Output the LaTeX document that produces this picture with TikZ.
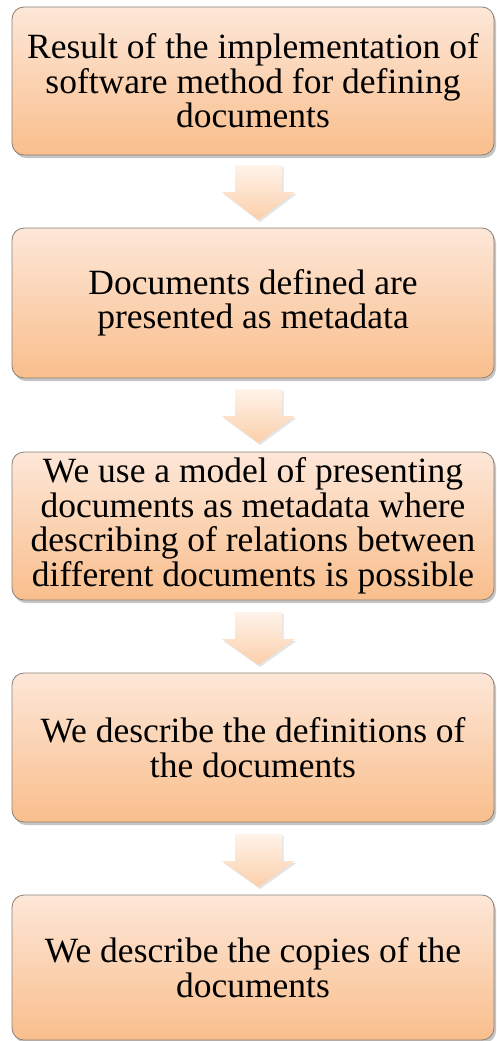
\documentclass[tikz,border=0pt]{standalone}
\usepackage{fontspec}
\setmainfont{Liberation Serif}
\newfontfamily\stepfont{Liberation Serif}
\usetikzlibrary{shadows,positioning}
\definecolor{boxtop}{HTML}{FDE7D8}
\definecolor{boxbot}{HTML}{F9BE8C}
\definecolor{boxline}{HTML}{8A7F78}
\definecolor{arrtop}{HTML}{FFF3EA}
\definecolor{arrbot}{HTML}{FBCFAA}
\tikzset{
  stepbox/.style={draw=boxline, line width=0.8pt, rounded corners=12pt,
    top color=boxtop, bottom color=boxbot, minimum width=482pt,
    align=center, inner sep=0pt,
    font=\stepfont\fontsize{35.5}{34.5}\selectfont,
    drop shadow={shadow xshift=2pt, shadow yshift=-3pt, fill=black!45, opacity=0.5}},
  flowarrow/.style={top color=arrtop, bottom color=arrbot, draw=none,
    drop shadow={shadow xshift=1.5pt, shadow yshift=-2pt, fill=black!30, opacity=0.35}}
}
% block arrow pointing down; #1 = top of shaft, #2 = tip
\newcommand{\downarrowshape}[2]{%
  \path[flowarrow] (235,#1) -- (282,#1) -- (282,#1+27) -- (295,#1+27)
    -- (258.5,#2) -- (222,#1+27) -- (235,#1+27) -- cycle;}
\begin{document}
\begin{tikzpicture}[x=1pt,y=-1pt]
\useasboundingbox (0,0) rectangle (497,1041);
\node[stepbox, minimum height=148pt] (s1) at (253,81)
  {Result of the implementation of\\software method for defining\\documents};
\node[stepbox, minimum height=150pt] (s2) at (253,303)
  {Documents defined are\\presented as metadata};
\node[stepbox, minimum height=148pt] (s3) at (253,526)
  {We use a model of presenting\\documents as metadata where\\describing of relations between\\different documents is possible};
\node[stepbox, minimum height=149pt] (s4) at (253,747.5)
  {We describe the definitions of\\the documents};
\node[stepbox, minimum height=145pt] (s5) at (253,967.5)
  {We describe the copies of the\\documents};
\downarrowshape{165}{220}
\downarrowshape{389}{443}
\downarrowshape{612}{665}
\downarrowshape{834}{887}
\end{tikzpicture}
\end{document}
